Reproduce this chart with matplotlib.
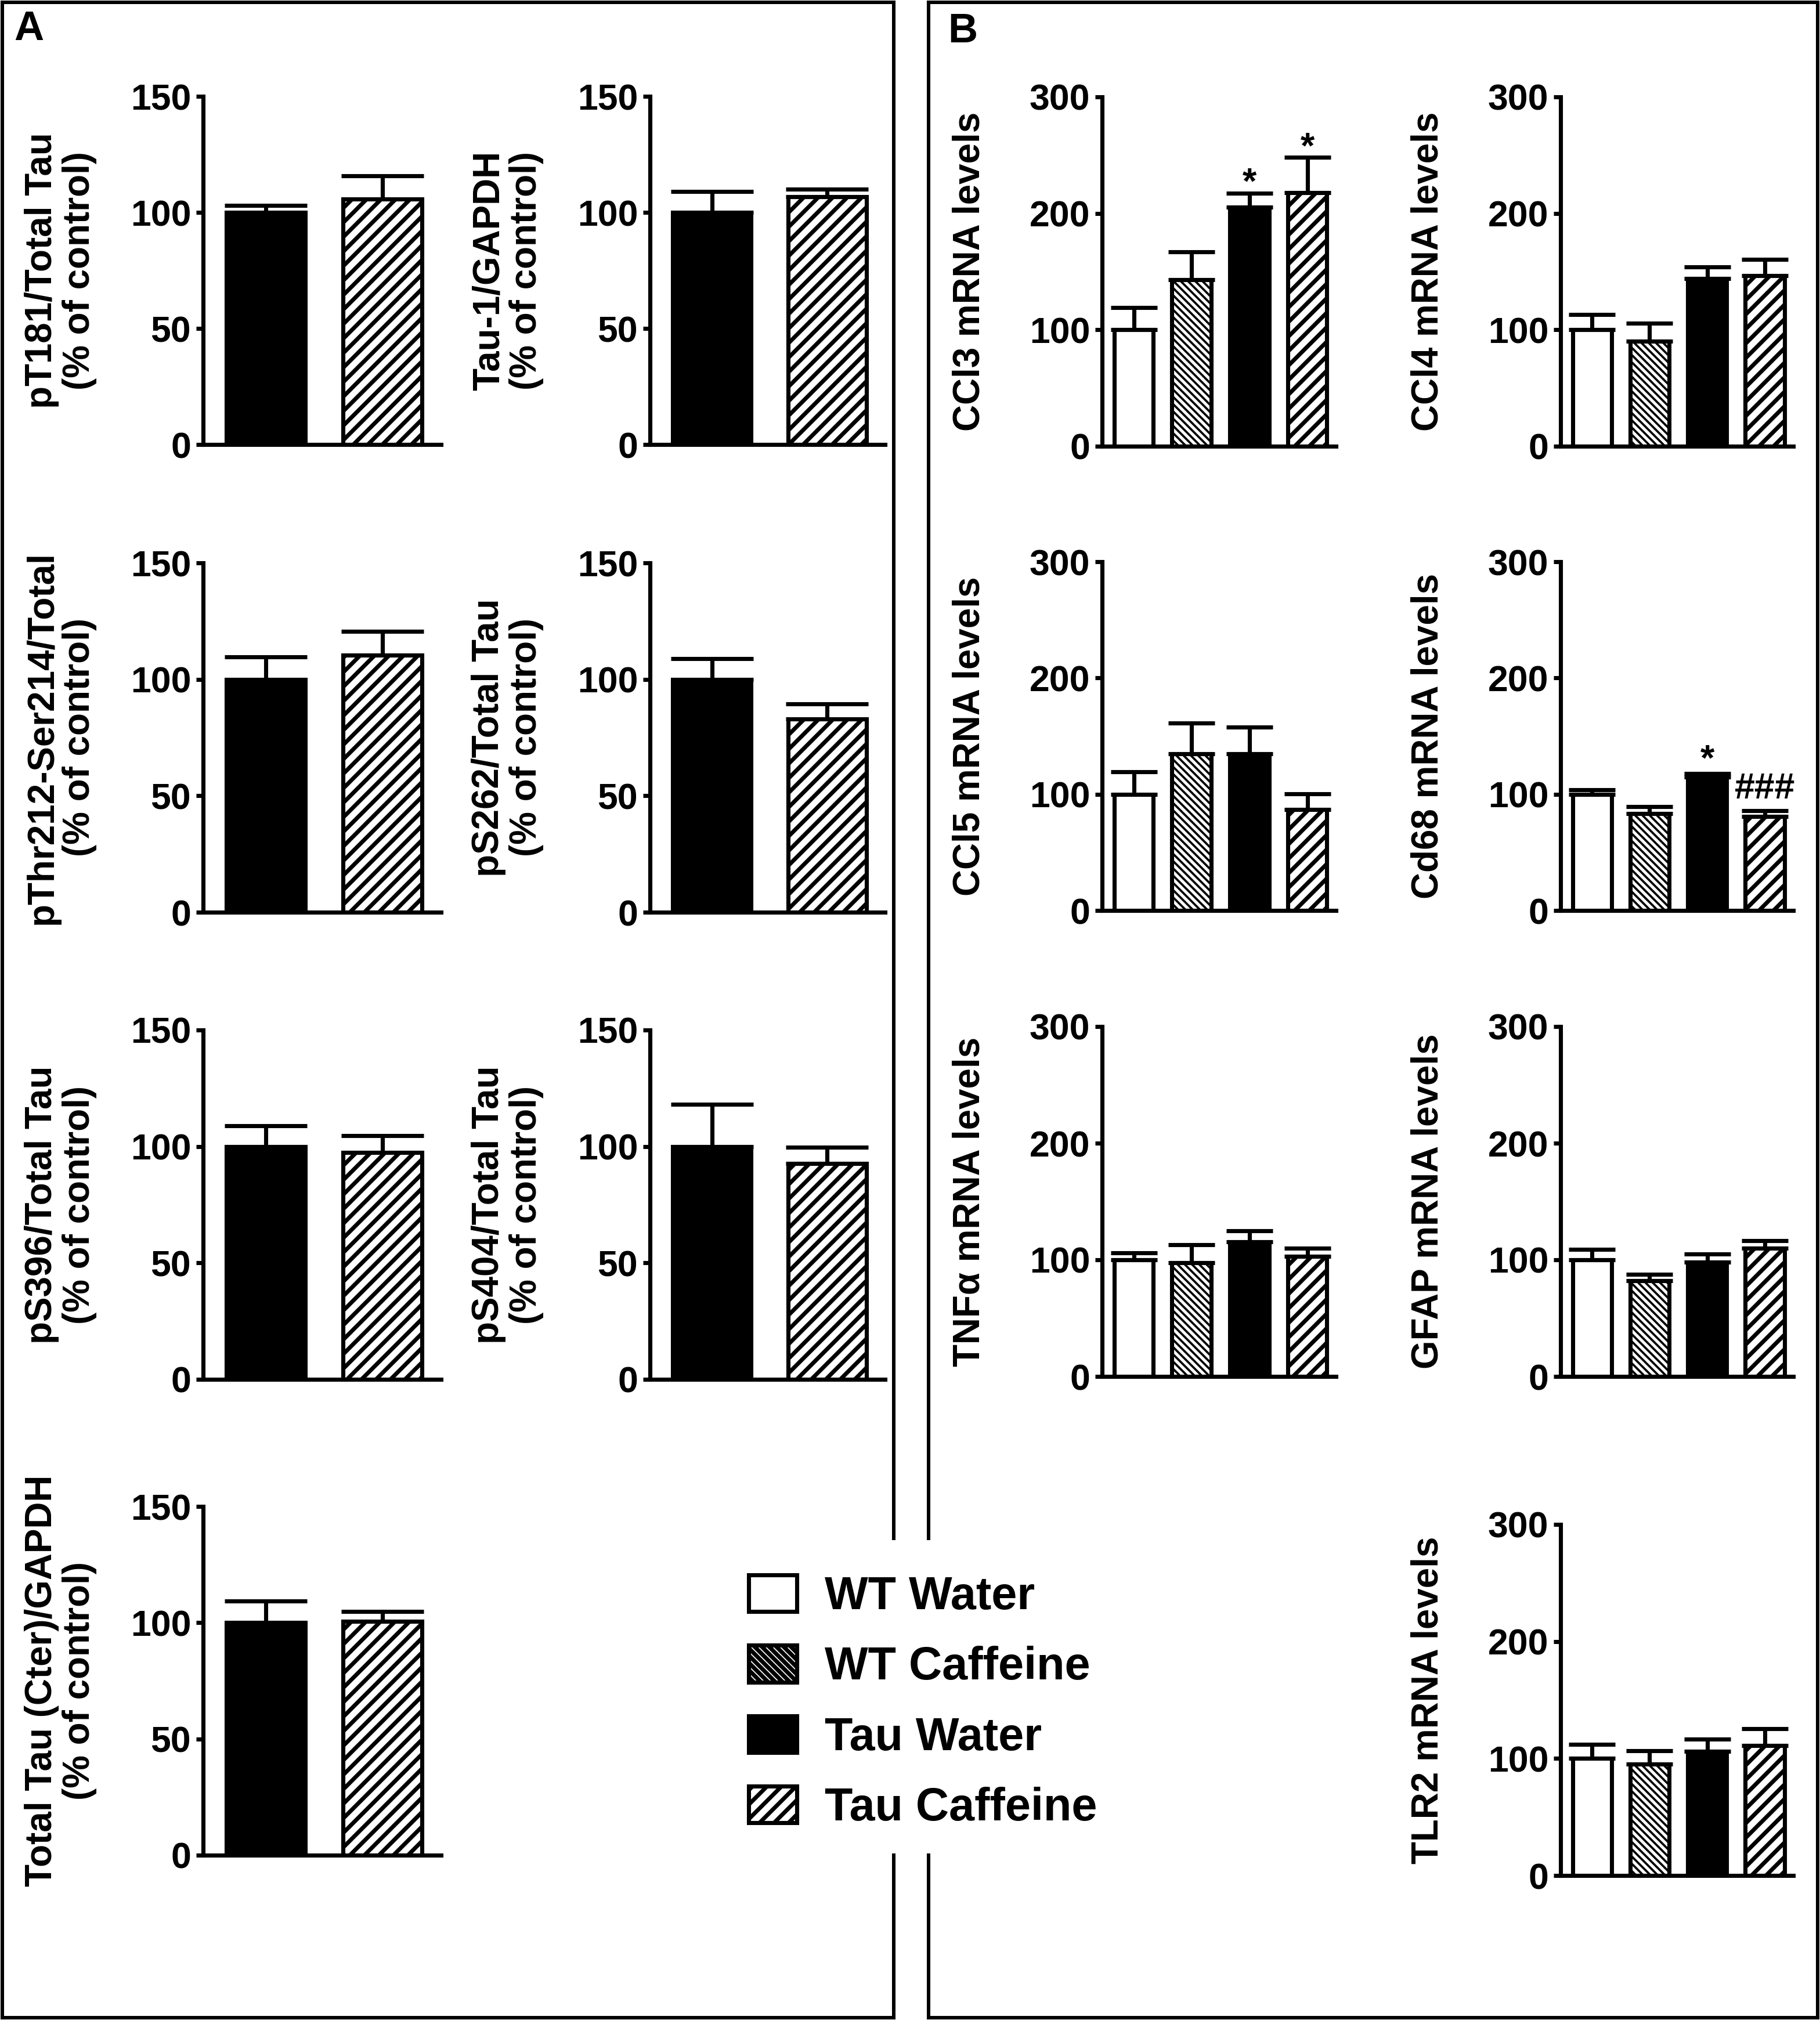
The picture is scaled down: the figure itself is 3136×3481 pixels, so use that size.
import matplotlib
matplotlib.use("Agg")
import matplotlib.pyplot as plt
from matplotlib.lines import Line2D
import numpy as np

plt.rcParams['font.family'] = ['Liberation Sans', 'DejaVu Sans']
plt.rcParams['font.weight'] = 'bold'
plt.rcParams['hatch.linewidth'] = 1.0

# ---------------- data ----------------
groups_A = ['Tau Water', 'Tau Caffeine']
groups_B = ['WT Water', 'WT Caffeine', 'Tau Water', 'Tau Caffeine']

ticks_A = [0, 50, 100, 150]
ticks_B = [0, 100, 200, 300]

# Panel A (% of control) : Tau Water, Tau Caffeine
pT181_mean = [100, 105.7]
pT181_sem = [2.9, 10.0]
tau1_mean = [100, 106.8]
tau1_sem = [8.9, 3.2]
pThr212_mean = [100, 110.4]
pThr212_sem = [9.6, 10.2]
pS262_mean = [100, 83.0]
pS262_sem = [8.9, 6.5]
pS396_mean = [100, 97.5]
pS396_sem = [8.9, 7.2]
pS404_mean = [100, 92.7]
pS404_sem = [18.1, 7.0]
totaltau_mean = [100, 100.7]
totaltau_sem = [9.3, 4.1]

# Panel B (mRNA levels) : WT Water, WT Caffeine, Tau Water, Tau Caffeine
ccl3_mean = [100, 143, 205.5, 218]
ccl3_sem = [19, 24, 12, 30]
ccl4_mean = [100, 90, 144, 146.6]
ccl4_sem = [13, 15.7, 10, 13.8]
ccl5_mean = [100, 134.8, 135, 87]
ccl5_sem = [19.3, 26.5, 22.8, 13.3]
cd68_mean = [100, 83.2, 115, 80.7]
cd68_sem = [4, 6.4, 3, 5.1]
tnfa_mean = [100, 97.5, 115.6, 103]
tnfa_sem = [6, 15.4, 9.2, 6.8]
gfap_mean = [100, 82, 97.8, 110]
gfap_sem = [9, 5.5, 7.2, 6.2]
tlr2_mean = [100, 95, 106, 111]
tlr2_sem = [12, 11.4, 10.7, 14.3]

# significance marks: (group index, text)
ccl3_marks = [(2, '*'), (3, '*')]
cd68_marks = [(2, '*')]
cd68_hash = [(3, '###')]

# ---------------- styles ----------------
STYLE = {
    'WT Water': dict(fc='white', hatch=None, hlw=None),
    'WT Caffeine': dict(fc='white', hatch='\\' * 8, hlw=0.9),
    'Tau Water': dict(fc='black', hatch=None, hlw=None),
    'Tau Caffeine': dict(fc='white', hatch='////', hlw=1.7),
}

W, H = 3136, 3481
DPI = 300
fig = plt.figure(figsize=(W / DPI, H / DPI), dpi=DPI)
fig.patch.set_facecolor('white')

LW = 1.7


def make_ax(x0, x1, ytop, ybot):
    return fig.add_axes([x0 / W, 1 - ybot / H, (x1 - x0) / W, (ybot - ytop) / H])


def panel(ax, groups, means, sems, ticks, ylabel, label_off_px, width_px, capsize):
    n = len(groups)
    x = np.arange(1, n + 1)
    patches = []
    for i, g in enumerate(groups):
        st = STYLE[g]
        if st['hlw'] is not None:
            plt.rcParams['hatch.linewidth'] = st['hlw']
        b = ax.bar(x[i], means[i], width=0.68, facecolor=st['fc'], edgecolor='black',
                   linewidth=LW, hatch=st['hatch'], zorder=2, label=g)
        p = b.patches[0]
        if st['hlw'] is not None and hasattr(p, 'set_hatch_linewidth'):
            p.set_hatch_linewidth(st['hlw'])
        patches.append(p)
    ax.errorbar(x, means, yerr=[np.zeros(n), sems], fmt='none', ecolor='black',
                elinewidth=LW, capsize=capsize, capthick=LW, zorder=3)
    if n == 2:
        ax.set_xlim(0.463, 2.502)
    else:
        ax.set_xlim(0.453, 4.496)
    ax.set_ylim(ticks[0], ticks[-1])
    ax.set_yticks(ticks)
    ax.set_yticklabels([str(t) for t in ticks], fontsize=15, fontweight='bold')
    ax.tick_params(axis='y', length=3.0, width=LW, pad=2, direction='out')
    ax.tick_params(axis='x', bottom=False, labelbottom=False)
    for s in ['top', 'right']:
        ax.spines[s].set_visible(False)
    for s in ['left', 'bottom']:
        ax.spines[s].set_linewidth(LW)
    ax.set_facecolor('none')
    ax.set_ylabel(ylabel, fontsize=15.3, fontweight='bold', linespacing=1.1)
    ax.yaxis.set_label_coords(-label_off_px / width_px, 0.5)
    return patches


def marks(ax, means, sems, mk, dy, fs):
    for i, t in mk:
        ax.annotate(t, xy=(i + 1, means[i] + sems[i]), xytext=(0, dy), textcoords='offset points',
                    ha='center', va='baseline', fontsize=fs, fontweight='bold', zorder=4)


# ---------------- panel A ----------------
colA = [(350, 760), (1120, 1525)]
rowsA = [(166, 766), (970, 1572), (1775, 2377), (2596, 3197)]
offA = 183
capA = 17

A_specs = [
    (0, 0, pT181_mean, pT181_sem, 'pT181/Total Tau\n(% of control)'),
    (0, 1, tau1_mean, tau1_sem, 'Tau-1/GAPDH\n(% of control)'),
    (1, 0, pThr212_mean, pThr212_sem, 'pThr212-Ser214/Total\n(% of control)'),
    (1, 1, pS262_mean, pS262_sem, 'pS262/Total Tau\n(% of control)'),
    (2, 0, pS396_mean, pS396_sem, 'pS396/Total Tau\n(% of control)'),
    (2, 1, pS404_mean, pS404_sem, 'pS404/Total Tau\n(% of control)'),
    (3, 0, totaltau_mean, totaltau_sem, 'Total Tau (Cter)/GAPDH\n(% of control)'),
]
for r, c, m, s, lab in A_specs:
    x0, x1 = colA[c]
    yt, yb = rowsA[r]
    ax = make_ax(x0, x1, yt, yb)
    panel(ax, groups_A, m, s, ticks_A, lab, offA, x1 - x0, capA)

# ---------------- panel B ----------------
colB = [(1899, 2302), (2689, 3090)]
rowsB = [(167, 769), (968, 1569), (1769, 2372), (2627, 3232)]
offB = 198
capB = 9.6

B_specs = [
    (0, 0, ccl3_mean, ccl3_sem, 'CCl3 mRNA levels'),
    (0, 1, ccl4_mean, ccl4_sem, 'CCl4 mRNA levels'),
    (1, 0, ccl5_mean, ccl5_sem, 'CCl5 mRNA levels'),
    (1, 1, cd68_mean, cd68_sem, 'Cd68 mRNA levels'),
    (2, 0, tnfa_mean, tnfa_sem, 'TNFα mRNA levels'),
    (2, 1, gfap_mean, gfap_sem, 'GFAP mRNA levels'),
    (3, 1, tlr2_mean, tlr2_sem, 'TLR2 mRNA levels'),
]
legend_patches = None
for r, c, m, s, lab in B_specs:
    x0, x1 = colB[c]
    yt, yb = rowsB[r]
    ax = make_ax(x0, x1, yt, yb)
    p = panel(ax, groups_B, m, s, ticks_B, lab, offB, x1 - x0, capB)
    if lab.startswith('CCl3'):
        legend_patches = p
        marks(ax, m, s, ccl3_marks, 0.0, 15)
    if lab.startswith('Cd68'):
        marks(ax, m, s, cd68_marks, 1.5, 15)
        marks(ax, m, s, cd68_hash, 5.0, 15)

# ---------------- legend ----------------
fig.legend(legend_patches, groups_B, loc='center left',
           bbox_to_anchor=(1290 / W, 1 - 2934 / H), frameon=False,
           prop=dict(size=19, weight='bold'), handlelength=1.05, handleheight=0.85,
           handletextpad=0.6, labelspacing=0.57, borderpad=0, borderaxespad=0)

# ---------------- frames and panel letters ----------------
def fline(xs, ys):
    fig.add_artist(Line2D([x / W for x in xs], [1 - y / H for y in ys],
                          transform=fig.transFigure, color='black', lw=1.45,
                          solid_capstyle='projecting'))

top, bot = 4, 3477
fline([4, 1540], [top, top]); fline([4, 4], [top, bot]); fline([4, 1540], [bot, bot])
fline([1540, 1540], [top, 2651]); fline([1540, 1540], [3197, bot])
fline([1600, 3132], [top, top]); fline([3132, 3132], [top, bot]); fline([1600, 3132], [bot, bot])
fline([1600, 1600], [top, 2651]); fline([1600, 1600], [3197, bot])

fig.text(24 / W, 1 - 18 / H, 'A', ha='left', va='top', fontsize=17, fontweight='bold')
fig.text(1633 / W, 1 - 22 / H, 'B', ha='left', va='top', fontsize=17, fontweight='bold')

fig.savefig('out.png', dpi=DPI, facecolor='white')
